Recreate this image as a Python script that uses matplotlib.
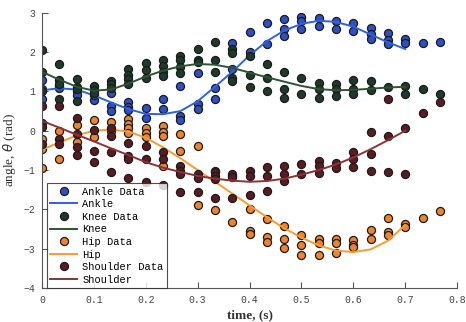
import numpy as np
import matplotlib
matplotlib.use('Agg')
import matplotlib.pyplot as plt

# sample times (30 Hz) and joint angles per frame, several trials each
dt = 1.0 / 30

ankle_data = [
    [1.28, 0.82, 1.05], [1.15, 1.08], [1.0, 0.9], [0.78, 0.9], [0.95, 0.63, 0.5],
    [0.73, 0.61, 0.53], [0.57, 0.32], [0.8, 0.55], [1.14, 0.38, 0.27],
    [1.48, 0.67, 0.55], [1.1, 0.82], [2.24, 1.56], [2.51, 2.0], [2.73, 2.21],
    [2.85, 2.58, 2.42], [2.9, 2.79, 2.59], [2.87, 2.66], [2.79, 2.6],
    [2.75, 2.53], [2.62, 2.45, 2.34], [2.49, 2.32, 2.21], [2.34, 2.24],
    [2.24], [2.26],
]
knee_data = [
    [2.05, 1.5, 1.02], [1.71, 1.28, 1.2, 0.8], [1.31, 1.12, 1.05, 0.76],
    [1.15, 1.03, 0.95], [1.26, 1.18, 1.08], [1.56, 1.43, 1.31, 1.2],
    [1.73, 1.55, 1.33], [1.81, 1.65, 1.49, 1.4], [1.9, 1.8, 1.63, 1.48],
    [2.09, 1.81, 1.75], [2.25, 1.81, 1.49], [2.07, 1.98, 1.35, 1.26],
    [1.9, 1.43, 1.12], [1.71, 1.33, 1.01], [1.49, 1.05, 0.84], [1.33, 0.93],
    [1.22, 1.05, 0.84], [1.2, 1.05, 0.88], [1.28, 1.07, 0.94], [1.26, 1.04],
    [1.12], [1.15, 0.94], [1.07], [0.93],
]
hip_data = [
    [-0.22, -0.47, -0.95], [0.0, -0.72], [0.14, -0.29], [0.28, -0.17],
    [0.22, 0.0], [0.29, 0.16, 0.06, -0.05], [0.08, -0.06, -0.17],
    [0.12, -0.03, -0.13, -0.89], [-0.09, -0.51], [-0.4, -1.88], [-1.02, -2.01],
    [-1.15, -2.33], [-1.99, -2.54, -2.63], [-2.25, -2.71, -2.84],
    [-2.42, -2.75, -2.99], [-2.65, -2.91, -3.16], [-2.75, -2.85, -3.16],
    [-2.75, -2.85, -3.11], [-2.77, -2.9, -2.96], [-2.52, -2.75],
    [-2.23, -2.57, -2.65], [-2.37, -2.44], [-2.23], [-2.05],
]
shoulder_data = [
    [0.62, 0.2, 0.1, -0.33], [0.63, -0.2, -0.34], [0.33, -0.09, -0.42, -0.62],
    [0.02, -0.51, -0.8], [0.06, -0.13, -0.55, -1.05], [-0.32, -0.64, -0.72, -1.21],
    [-0.39, -0.72, -1.31], [-0.55, -0.72, -1.38], [-0.89, -1.02, -1.1, -1.57],
    [-1.1, -1.21, -1.57], [-1.05, -1.15, -1.23, -1.7], [-1.1, -1.19, -1.72],
    [-1.02, -1.15, -1.64], [-0.93, -1.15, -1.53], [-0.89, -1.1, -1.27],
    [-0.85, -1.1], [-0.77, -0.9, -1.08], [-0.82, -0.96], [-0.55, -0.72, -0.93],
    [-0.03, -0.6, -1.02], [0.8, -0.13, -1.04], [0.06, -1.1], [0.46], [0.72],
]

# fitted trajectories, one value per frame up to 0.7 s
ankle_fit = [1.03, 1.08, 1.05, 0.9, 0.72, 0.55, 0.43, 0.42, 0.5, 0.75, 1.12,
             1.5, 1.92, 2.28, 2.55, 2.72, 2.8, 2.77, 2.65, 2.45, 2.25, 2.08]
knee_fit = [1.5, 1.3, 1.12, 1.02, 1.05, 1.2, 1.38, 1.53, 1.64, 1.7, 1.68,
            1.6, 1.48, 1.36, 1.25, 1.14, 1.06, 1.03, 1.04, 1.07, 1.1, 1.12]
hip_fit = [-0.48, -0.3, -0.12, 0.0, 0.03, -0.02, -0.18, -0.42, -0.7, -1.0, -1.3,
           -1.6, -1.9, -2.2, -2.48, -2.72, -2.92, -3.05, -3.09, -3.02, -2.8, -2.4]
shoulder_fit = [0.25, 0.08, -0.1, -0.27, -0.45, -0.62, -0.8, -0.94, -1.05, -1.15,
                -1.22, -1.27, -1.3, -1.28, -1.22, -1.12, -1.0, -0.86, -0.68,
                -0.47, -0.24, 0.0]

joints = ['Ankle', 'Knee', 'Hip', 'Shoulder']
data_sets = [ankle_data, knee_data, hip_data, shoulder_data]
fits = [ankle_fit, knee_fit, hip_fit, shoulder_fit]
face_colors = ['#2f4fc4', '#1d3a2a', '#f0842c', '#5a1c20']
line_colors = ['#2e62e6', '#2d5433', '#ff9a2e', '#8e3236']

mono = 'Liberation Mono'
serif = 'Liberation Serif'

fig = plt.figure(figsize=(4.66, 3.22), dpi=100)
ax = fig.add_axes([0.09, 0.106, 0.891, 0.854])

for name, d, f, fc, lc in zip(joints, data_sets, fits, face_colors, line_colors):
    t = np.concatenate([np.full(len(col), i * dt) for i, col in enumerate(d)])
    y = np.concatenate([np.array(col) for col in d])
    ax.plot(t, y, 'o', ms=5.8, mfc=fc, mec='#1a1a1a', mew=0.9,
            label=name + ' Data')
    tf = np.arange(len(f)) * dt
    ax.plot(tf, f, '-', color=lc, lw=1.4, label=name)

ax.set_xlim(0, 0.8)
ax.set_ylim(-4, 3)
ax.set_xticks(np.arange(0, 0.81, 0.1))
ax.set_xticklabels(['0', '0.1', '0.2', '0.3', '0.4', '0.5', '0.6', '0.7', '0.8'])
ax.set_yticks(range(-4, 4))
for s in ['top', 'right']:
    ax.spines[s].set_visible(False)
for s in ['left', 'bottom']:
    ax.spines[s].set_color('#555555')
    ax.spines[s].set_linewidth(0.8)
ax.tick_params(direction='in', length=4, width=0.8, color='#555555',
               labelsize=7, labelcolor='#444444', pad=5)
for lab in ax.get_xticklabels() + ax.get_yticklabels():
    lab.set_family(mono)

ax.set_xlabel('time, (s)', family=serif, fontsize=9.5, weight='bold',
              color='#333333', labelpad=3)
ax.set_ylabel(r'angle, $\theta$ (rad)', family=serif, fontsize=9.5,
              color='#333333', labelpad=4)

leg = ax.legend(loc='lower left', bbox_to_anchor=(0.012, 0.0), numpoints=1,
                prop={'family': mono, 'size': 7.5}, frameon=True, fancybox=False,
                edgecolor='#222222', borderpad=0.3, labelspacing=0.25,
                handlelength=2.6, handletextpad=0.5, borderaxespad=0.0)
leg.get_frame().set_linewidth(0.8)

fig.savefig('out.png', dpi=100)
